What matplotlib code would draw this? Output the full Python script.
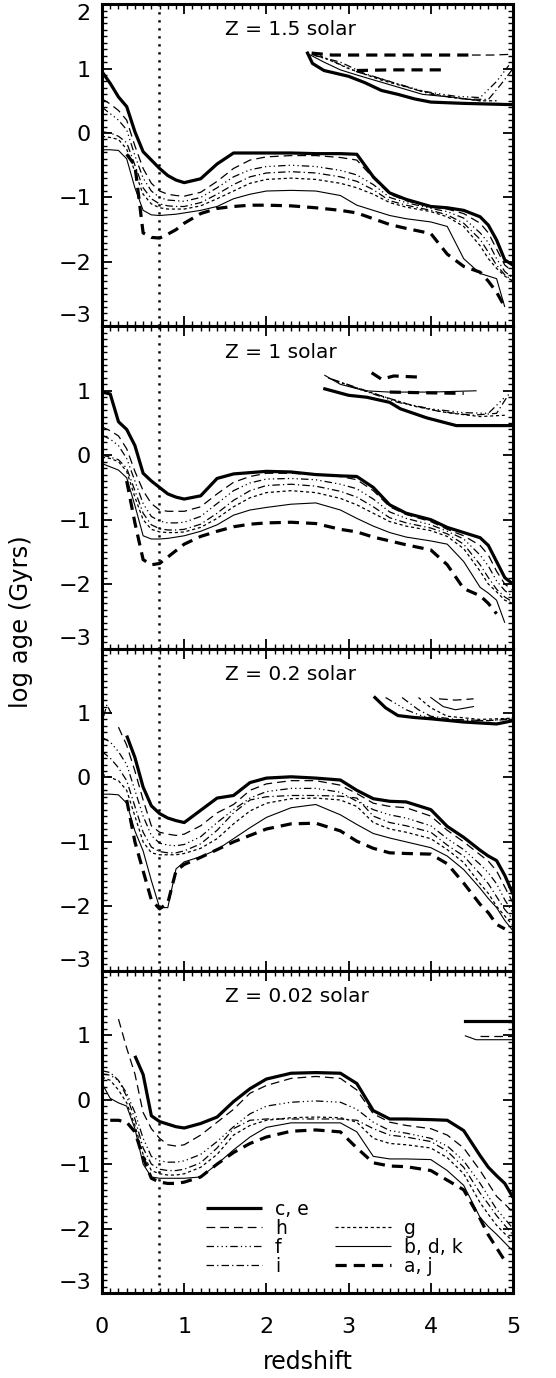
import numpy as np
import matplotlib
matplotlib.use("Agg")
import matplotlib.pyplot as plt
from matplotlib.lines import Line2D
from matplotlib.ticker import MultipleLocator

nan = np.nan

# redshift grid the curves were read at
Z_GRID = [0.0, 0.1, 0.2, 0.3, 0.4, 0.5, 0.6, 0.7, 0.8, 0.9, 1.0, 1.2, 1.4, 1.6, 1.8,
          2.0, 2.3, 2.6, 2.9, 3.1, 3.3, 3.5, 3.7, 4.0, 4.2, 4.4, 4.6, 4.7, 4.8, 4.9, 5.0]

# ---- Z = 1.5 solar ----
S15_CE = [0.95, 0.77, 0.56, 0.41, 0.02, -0.29, -0.42, -0.55, -0.66, -0.73, -0.77, -0.71, -0.48, -0.31, -0.31,
          -0.31, -0.31, -0.32, -0.32, -0.33, -0.68, -0.93, -1.03, -1.14, -1.16, -1.2, -1.3, -1.43, -1.66, -1.97, -2.05]
S15_H = [0.53, 0.45, 0.35, 0.2, -0.2, -0.55, -0.78, -0.9, -0.95, -0.97, -0.98, -0.92, -0.75, -0.55, -0.42,
         -0.37, -0.35, -0.35, -0.38, -0.42, -0.7, -0.95, -1.05, -1.15, -1.18, -1.25, -1.4, -1.55, -1.8, -2.05, -2.15]
S15_F = [0.40, 0.3, 0.2, 0.05, -0.35, -0.7, -0.9, -1.0, -1.04, -1.05, -1.06, -1.0, -0.85, -0.68, -0.57,
         -0.52, -0.5, -0.52, -0.58, -0.65, -0.8, -1.0, -1.08, -1.17, -1.22, -1.32, -1.55, -1.7, -1.95, -2.15, -2.25]
S15_I = [0.02, 0.0, -0.05, -0.15, -0.5, -0.85, -1.02, -1.1, -1.13, -1.14, -1.14, -1.08, -0.95, -0.8, -0.68,
         -0.62, -0.6, -0.62, -0.68, -0.75, -0.88, -1.05, -1.12, -1.2, -1.27, -1.4, -1.65, -1.85, -2.05, -2.2, -2.3]
S15_G = [-0.05, -0.07, -0.1, -0.25, -0.6, -0.95, -1.1, -1.16, -1.18, -1.18, -1.18, -1.13, -1.02, -0.9, -0.78,
         -0.72, -0.7, -0.72, -0.78, -0.85, -0.95, -1.08, -1.15, -1.22, -1.3, -1.45, -1.75, -1.95, -2.1, -2.22, -2.3]
S15_BDK = [-0.26, -0.26, -0.27, -0.4, -0.85, -1.2, -1.27, -1.28, -1.27, -1.26, -1.24, -1.2, -1.14, -1.02, -0.95,
           -0.9, -0.89, -0.9, -0.97, -1.12, -1.2, -1.28, -1.33, -1.38, -1.45, -1.95, -2.18, -2.22, -2.26, -2.7, nan]
S15_AJ = [nan, nan, nan, -0.33, -0.5, -1.55, -1.62, -1.63, -1.57, -1.5, -1.4, -1.25, -1.17, -1.14, -1.12,
          -1.12, -1.13, -1.16, -1.2, -1.24, -1.33, -1.42, -1.48, -1.56, -1.88, -2.07, -2.16, -2.3, -2.47, -2.7, nan]
# old-age branch at high redshift: (redshift, log age)
S15_UP_CE = ([2.5, 2.56, 2.7, 3.0, 3.2, 3.4, 3.6, 3.8, 4.0, 4.4, 5.0],
             [1.24, 1.08, 0.97, 0.88, 0.78, 0.66, 0.6, 0.53, 0.48, 0.46, 0.44])
S15_UP_AJ1 = ([2.55, 2.8, 3.2, 3.6, 4.0, 4.5], [1.24, 1.21, 1.21, 1.21, 1.21, 1.21])
S15_UP_AJ2 = ([3.1, 3.5, 3.9, 4.2], [0.97, 0.98, 0.98, 0.98])
S15_UP_H = ([4.5, 4.75, 4.95], [1.21, 1.21, 1.22])
S15_UP_BDK = ([2.52, 2.7, 2.9, 3.1, 3.5, 3.9, 4.3, 4.6], [1.22, 1.1, 0.98, 0.9, 0.75, 0.6, 0.55, 0.5])
S15_UP_F = ([2.55, 2.8, 3.1, 3.5, 3.9, 4.3, 4.6, 4.8, 4.95], [1.22, 1.12, 0.95, 0.8, 0.65, 0.57, 0.55, 0.8, 1.05])
S15_UP_I = ([2.6, 2.9, 3.2, 3.6, 4.0, 4.4, 4.7, 4.85, 5.0], [1.2, 1.1, 0.92, 0.76, 0.6, 0.53, 0.52, 0.75, 1.0])
S15_UP_G = ([2.65, 3.0, 3.4, 3.8, 4.2, 4.6, 4.8], [1.2, 1.0, 0.82, 0.68, 0.56, 0.5, 0.5])

# ---- Z = 1 solar ----
S10_CE = [0.98, 0.95, 0.52, 0.4, 0.15, -0.28, -0.4, -0.5, -0.6, -0.65, -0.68, -0.63, -0.36, -0.29, -0.27,
          -0.25, -0.26, -0.3, -0.32, -0.33, -0.5, -0.77, -0.9, -1.0, -1.12, -1.2, -1.28, -1.4, -1.65, -1.9, -2.0]
S10_H = [0.44, 0.38, 0.3, 0.1, -0.25, -0.55, -0.75, -0.85, -0.87, -0.87, -0.87, -0.8, -0.6, -0.42, -0.33,
         -0.28, -0.28, -0.3, -0.33, -0.38, -0.55, -0.8, -0.92, -1.03, -1.15, -1.25, -1.4, -1.55, -1.8, -2.0, -2.1]
S10_F = [0.31, 0.25, 0.15, -0.05, -0.4, -0.75, -0.95, -1.02, -1.05, -1.05, -1.04, -0.95, -0.75, -0.55, -0.43,
         -0.37, -0.36, -0.38, -0.45, -0.52, -0.68, -0.88, -0.98, -1.08, -1.18, -1.3, -1.55, -1.72, -1.95, -2.1, -2.2]
S10_I = [0.0, -0.03, -0.07, -0.2, -0.55, -0.9, -1.08, -1.14, -1.16, -1.16, -1.15, -1.07, -0.9, -0.7, -0.55,
         -0.47, -0.45, -0.48, -0.56, -0.65, -0.8, -0.97, -1.05, -1.13, -1.22, -1.38, -1.7, -1.9, -2.08, -2.2, -2.28]
S10_G = [-0.03, -0.05, -0.1, -0.25, -0.65, -1.0, -1.15, -1.19, -1.2, -1.2, -1.19, -1.12, -0.98, -0.8, -0.66,
         -0.58, -0.55, -0.58, -0.67, -0.77, -0.9, -1.03, -1.1, -1.17, -1.26, -1.45, -1.8, -2.0, -2.12, -2.25, -2.3]
S10_BDK = [-0.13, -0.18, -0.23, -0.35, -0.78, -1.25, -1.3, -1.3, -1.29, -1.27, -1.25, -1.18, -1.08, -0.93, -0.85,
           -0.81, -0.76, -0.74, -0.85, -0.98, -1.1, -1.2, -1.27, -1.33, -1.38, -1.65, -2.05, -2.14, -2.25, -2.6, nan]
S10_AJ = [nan, nan, nan, -0.4, -1.05, -1.62, -1.7, -1.68, -1.58, -1.48, -1.38, -1.26, -1.18, -1.11, -1.07,
          -1.05, -1.04, -1.06, -1.15, -1.19, -1.27, -1.33, -1.39, -1.47, -1.7, -2.07, -2.18, -2.3, -2.46, nan, nan]
S10_UP_CE = ([2.71, 3.0, 3.22, 3.5, 3.63, 3.95, 4.31, 5.0], [1.03, 0.93, 0.9, 0.82, 0.72, 0.58, 0.46, 0.46])
S10_UP_BDK = ([2.71, 2.9, 3.2, 3.5, 4.0, 4.55], [1.24, 1.1, 1.0, 0.98, 0.98, 1.0])
S10_UP_AJ1 = ([3.28, 3.4, 3.55, 3.9], [1.28, 1.18, 1.23, 1.21])
S10_UP_AJ2 = ([3.5, 3.9, 4.4], [0.98, 0.97, 0.96])
S10_UP_F = ([2.75, 3.0, 3.3, 3.6, 4.0, 4.4, 4.7, 4.9], [1.2, 1.08, 0.95, 0.82, 0.72, 0.66, 0.65, 0.9])
S10_UP_I = ([2.8, 3.1, 3.4, 3.7, 4.1, 4.5, 4.8, 4.95], [1.18, 1.05, 0.92, 0.8, 0.68, 0.62, 0.65, 0.95])
S10_UP_G = ([2.85, 3.2, 3.5, 3.8, 4.2, 4.6, 4.9], [1.15, 1.0, 0.88, 0.76, 0.66, 0.6, 0.62])

# ---- Z = 0.2 solar ----
S02_CE = [nan, nan, nan, 0.65, 0.31, -0.15, -0.44, -0.56, -0.63, -0.67, -0.7, -0.51, -0.32, -0.28, -0.08,
          -0.01, 0.01, -0.01, -0.04, -0.2, -0.33, -0.37, -0.38, -0.5, -0.76, -0.93, -1.13, -1.22, -1.29, -1.52, -1.81]
S02_H = [nan, nan, 0.78, 0.5, 0.1, -0.35, -0.75, -0.85, -0.88, -0.9, -0.88, -0.75, -0.55, -0.42, -0.2,
         -0.1, -0.05, -0.05, -0.12, -0.25, -0.4, -0.45, -0.47, -0.6, -0.82, -1.0, -1.2, -1.3, -1.45, -1.7, -1.95]
S02_F = [0.62, 0.55, 0.4, 0.2, -0.2, -0.6, -0.9, -1.02, -1.05, -1.06, -1.04, -0.92, -0.7, -0.5, -0.32,
         -0.22, -0.17, -0.17, -0.23, -0.37, -0.5, -0.58, -0.63, -0.75, -0.95, -1.12, -1.35, -1.48, -1.65, -1.9, -2.1]
S02_I = [0.4, 0.3, 0.15, -0.05, -0.45, -0.85, -1.08, -1.15, -1.17, -1.17, -1.14, -1.03, -0.82, -0.55, -0.35,
         -0.3, -0.28, -0.28, -0.29, -0.32, -0.6, -0.7, -0.75, -0.85, -1.05, -1.22, -1.5, -1.65, -1.85, -2.05, -2.2]
S02_G = [0.05, 0.0, -0.05, -0.2, -0.6, -1.0, -1.17, -1.2, -1.2, -1.2, -1.18, -1.1, -0.95, -0.72, -0.52,
         -0.4, -0.33, -0.32, -0.35, -0.45, -0.7, -0.8, -0.85, -0.95, -1.12, -1.32, -1.65, -1.8, -2.0, -2.15, -2.3]
S02_BDK = [-0.26, -0.26, -0.27, -0.4, -0.83, -1.14, -1.6, -2.02, -2.02, -1.42, -1.31, -1.23, -1.12, -0.95, -0.78,
           -0.62, -0.47, -0.42, -0.58, -0.73, -0.87, -0.94, -1.0, -1.09, -1.22, -1.43, -1.72, -1.88, -2.02, -2.22, -2.38]
S02_AJ = [nan, nan, nan, -0.35, -1.0, -1.45, -1.9, -2.04, -1.95, -1.45, -1.35, -1.24, -1.12, -1.0, -0.9,
          -0.8, -0.72, -0.71, -0.83, -0.99, -1.1, -1.17, -1.18, -1.19, -1.34, -1.64, -1.97, -2.1, -2.28, -2.35, nan]
S02_HOOK_I = ([0.02, 0.06, 0.12], [0.95, 1.13, 0.97])
S02_UP_CE = ([3.32, 3.45, 3.6, 3.8, 4.0, 4.4, 4.8, 5.0], [1.24, 1.08, 0.96, 0.93, 0.91, 0.86, 0.83, 0.88])
S02_UP_F = ([3.45, 3.7, 3.9, 4.2, 4.6, 5.0], [1.24, 1.05, 0.95, 0.9, 0.88, 0.9])
S02_UP_I = ([3.65, 3.85, 4.0, 4.3, 4.7, 5.0], [1.24, 1.05, 0.95, 0.9, 0.88, 0.92])
S02_UP_G = ([3.85, 4.0, 4.2, 4.6, 5.0], [1.24, 1.08, 0.95, 0.9, 0.92])
S02_UP_BDK = ([4.0, 4.15, 4.3, 4.52], [1.24, 1.1, 1.05, 1.1])
S02_UP_H = ([4.1, 4.3, 4.52], [1.22, 1.2, 1.22])

# ---- Z = 0.02 solar ----
S002_CE = [nan, nan, nan, nan, 0.68, 0.39, -0.25, -0.34, -0.38, -0.42, -0.44, -0.37, -0.27, -0.03, 0.17,
           0.32, 0.41, 0.42, 0.41, 0.25, -0.17, -0.3, -0.3, -0.31, -0.32, -0.48, -0.87, -1.05, -1.18, -1.3, -1.52]
S002_H = [nan, nan, 1.25, 0.8, 0.4, -0.2, -0.45, -0.6, -0.7, -0.72, -0.7, -0.55, -0.35, -0.15, 0.1,
          0.22, 0.33, 0.36, 0.33, 0.15, -0.22, -0.35, -0.4, -0.45, -0.55, -0.75, -1.1, -1.3, -1.5, -1.62, -1.75]
S002_F = [0.4, 0.38, 0.3, 0.1, -0.2, -0.6, -0.88, -0.95, -0.97, -0.97, -0.95, -0.85, -0.65, -0.42, -0.22,
          -0.1, -0.04, -0.02, -0.04, -0.15, -0.35, -0.48, -0.52, -0.6, -0.72, -0.95, -1.3, -1.5, -1.7, -1.85, -2.0]
S002_I = [0.45, 0.42, 0.3, 0.05, -0.3, -0.75, -1.0, -1.08, -1.1, -1.1, -1.08, -0.98, -0.75, -0.45, -0.32,
          -0.3, -0.3, -0.3, -0.3, -0.32, -0.45, -0.55, -0.58, -0.65, -0.8, -1.05, -1.45, -1.62, -1.8, -1.95, -2.1]
S002_G = [0.35, 0.3, 0.15, -0.05, -0.4, -0.85, -1.1, -1.15, -1.17, -1.17, -1.15, -1.05, -0.85, -0.55, -0.4,
          -0.32, -0.28, -0.27, -0.28, -0.35, -0.6, -0.68, -0.7, -0.75, -0.9, -1.15, -1.6, -1.78, -1.95, -2.08, -2.2]
S002_BDK = [0.25, 0.02, -0.05, -0.1, -0.45, -1.0, -1.2, -1.22, -1.22, -1.22, -1.22, -1.2, -1.0, -0.78, -0.58,
            -0.43, -0.36, -0.36, -0.36, -0.5, -0.88, -0.92, -0.92, -0.93, -1.1, -1.33, -1.83, -1.97, -2.09, -2.22, -2.35]
S002_AJ = [nan, -0.32, -0.32, -0.35, -0.5, -0.9, -1.22, -1.28, -1.3, -1.3, -1.28, -1.2, -1.0, -0.82, -0.68,
           -0.58, -0.49, -0.47, -0.5, -0.75, -0.98, -1.03, -1.04, -1.1, -1.25, -1.4, -1.85, -2.1, -2.3, -2.5, nan]
S002_UP_CE = ([4.42, 5.0], [1.22, 1.22])
S002_UP_BDK = ([4.42, 4.55, 5.0], [0.99, 0.93, 0.93])
S002_UP_H = ([4.6, 5.0], [0.98, 0.98])

PANEL_TITLES = ["Z = 1.5 solar", "Z = 1 solar", "Z = 0.2 solar", "Z = 0.02 solar"]
Z_MARK = 0.69

STYLE = {
    "ce": dict(lw=2.3, ls="-"),
    "h": dict(lw=0.9, dashes=(7, 4)),
    "f": dict(lw=0.9, dashes=(6, 2.5, 1, 2.5, 1, 2.5, 1, 2.5)),
    "i": dict(lw=0.9, dashes=(6, 2.5, 1, 2.5)),
    "g": dict(lw=0.9, dashes=(2.5, 2.2)),
    "bdk": dict(lw=0.8, ls="-"),
    "aj": dict(lw=2.3, dashes=(3.5, 2.2)),
}
LABELS = {"ce": "c, e", "h": "h", "f": "f", "i": "i", "g": "g", "bdk": "b, d, k", "aj": "a, j"}

panels = [
    ({"ce": S15_CE, "h": S15_H, "f": S15_F, "i": S15_I, "g": S15_G, "bdk": S15_BDK, "aj": S15_AJ},
     [("ce", S15_UP_CE), ("aj", S15_UP_AJ1), ("aj", S15_UP_AJ2), ("h", S15_UP_H), ("bdk", S15_UP_BDK),
      ("f", S15_UP_F), ("i", S15_UP_I), ("g", S15_UP_G)]),
    ({"ce": S10_CE, "h": S10_H, "f": S10_F, "i": S10_I, "g": S10_G, "bdk": S10_BDK, "aj": S10_AJ},
     [("ce", S10_UP_CE), ("bdk", S10_UP_BDK), ("aj", S10_UP_AJ1), ("aj", S10_UP_AJ2),
      ("f", S10_UP_F), ("i", S10_UP_I), ("g", S10_UP_G)]),
    ({"ce": S02_CE, "h": S02_H, "f": S02_F, "i": S02_I, "g": S02_G, "bdk": S02_BDK, "aj": S02_AJ},
     [("i", S02_HOOK_I), ("ce", S02_UP_CE), ("f", S02_UP_F), ("i", S02_UP_I), ("g", S02_UP_G),
      ("bdk", S02_UP_BDK), ("h", S02_UP_H)]),
    ({"ce": S002_CE, "h": S002_H, "f": S002_F, "i": S002_I, "g": S002_G, "bdk": S002_BDK, "aj": S002_AJ},
     [("ce", S002_UP_CE), ("bdk", S002_UP_BDK), ("h", S002_UP_H)]),
]

fig, axes = plt.subplots(4, 1, figsize=(5.56, 13.78), dpi=100, sharex=True)
fig.subplots_adjust(left=0.1835, right=0.9227, top=0.997, bottom=0.0617, hspace=0)

handles = {}
for k, (ax, (main, upper)) in enumerate(zip(axes, panels)):
    for key, vals in main.items():
        line, = ax.plot(Z_GRID, vals, color="k", solid_capstyle="butt", **STYLE[key])
        handles[key] = line
    for key, (zs, ys) in upper:
        ax.plot(zs, ys, color="k", **STYLE[key])
    ax.axvline(Z_MARK, color="k", lw=1.8, dashes=(0.9, 2.3))

    ax.set_xlim(0, 5)
    ax.set_ylim(-3, 2)
    ax.text(0.3, 0.92, PANEL_TITLES[k], transform=ax.transAxes, ha="left", va="center", fontsize=14.5)

    ax.xaxis.set_major_locator(MultipleLocator(1))
    ax.xaxis.set_minor_locator(MultipleLocator(0.1))
    ax.yaxis.set_minor_locator(MultipleLocator(0.1))
    ticks = [-3, -2, -1, 0, 1, 2] if k == 0 else [-3, -2, -1, 0, 1]
    ax.set_yticks(ticks)
    ax.set_yticklabels([str(t).replace("-", "\u2212") for t in ticks])
    ax.tick_params(which="both", direction="in", top=True, right=True, labelsize=16)
    ax.tick_params(which="major", length=7, width=1.3)
    ax.tick_params(which="minor", length=3.5, width=1.0)
    ax.tick_params(axis="y", pad=8)
    ax.tick_params(axis="x", pad=17)
    for sp in ax.spines.values():
        sp.set_linewidth(2.2)
    labs = ax.get_yticklabels()
    labs[0].set_va("bottom")
    if k == 0:
        labs[-1].set_va("top")

blank = Line2D([], [], color="none")
order = ["ce", "h", "f", "i", None, "g", "bdk", "aj"]
leg = axes[3].legend([handles[o] if o else blank for o in order],
                     [LABELS[o] if o else "" for o in order],
                     ncol=2, frameon=False, loc="upper left", bbox_to_anchor=(0.22, 0.33),
                     fontsize=13.5, handlelength=3.0, labelspacing=0.0, columnspacing=1.4,
                     handletextpad=0.7, borderpad=0.2)

fig.text(0.038, 0.549, "log age (Gyrs)", rotation=90, ha="center", va="center", fontsize=17.5)
fig.text(0.553, 0.0116, "redshift", ha="center", va="center", fontsize=17)

plt.savefig("out.png", dpi=100)
